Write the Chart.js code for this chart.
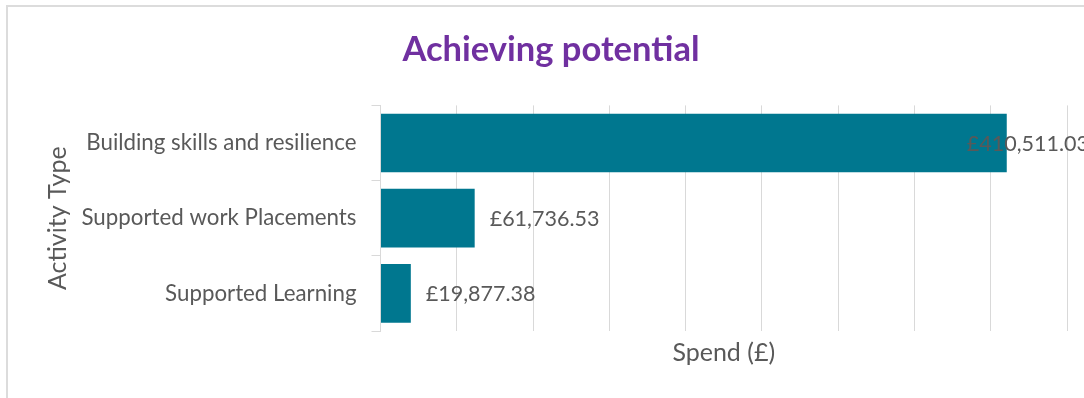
<!DOCTYPE html>
<html>
<head>
<meta charset="utf-8">
<title>Achieving potential</title>
<script src="https://cdn.jsdelivr.net/npm/chart.js@4/dist/chart.umd.min.js"></script>
<style>
  html, body { margin: 0; padding: 0; background: #ffffff; overflow: hidden; width: 1084px; height: 398px; }
  #frame { position: absolute; left: 6px; top: 5px; width: 1200px; height: 500px; border: 2px solid #dcdcdc; box-sizing: border-box; }
  #wrap { position: absolute; left: 0; top: 0; width: 1095px; height: 398px; }
</style>
</head>
<body>
<div id="frame"></div>
<div id="wrap"><canvas id="chart" width="1095" height="398"></canvas></div>
<script>
// Spend per activity type
const categories = ['Building skills and resilience', 'Supported work Placements', 'Supported Learning'];
const spend = [410511.03, 61736.53, 19877.38];
const axisMax = 450000;
const axisStep = 50000;

const FONT = 'Lato, "Open Sans", sans-serif';
const GREY = '#595959';

const money = v => '£' + v.toLocaleString('en-GB', { minimumFractionDigits: 2, maximumFractionDigits: 2 });

// Value labels just past each bar end, kept inside the canvas
const valueLabels = {
  id: 'valueLabels',
  afterDatasetsDraw(chart) {
    const ctx = chart.ctx;
    ctx.save();
    ctx.font = '21.5px ' + FONT;
    ctx.fillStyle = GREY;
    ctx.textAlign = 'left';
    ctx.textBaseline = 'middle';
    chart.getDatasetMeta(0).data.forEach((bar, i) => {
      const text = money(spend[i]);
      const w = ctx.measureText(text).width;
      const x = Math.min(bar.x + 15, chart.width - 6 - w);
      ctx.fillText(text, x, bar.y + 1);
    });
    ctx.restore();
  }
};

new Chart(document.getElementById('chart'), {
  type: 'bar',
  data: {
    labels: categories,
    datasets: [{
      data: spend,
      backgroundColor: '#00778F',
      borderWidth: 0,
      barPercentage: 0.78,
      categoryPercentage: 1
    }]
  },
  options: {
    indexAxis: 'y',
    responsive: false,
    animation: false,
    layout: { padding: { left: 35, right: 28, top: 0, bottom: 0 } },
    plugins: {
      legend: { display: false },
      tooltip: { enabled: false },
      title: {
        display: true,
        text: 'Achieving potential',
        color: '#7030A0',
        font: { family: FONT, size: 34.5, weight: 'bold', lineHeight: 1.2 },
        padding: { top: 29, bottom: 35 }
      }
    },
    scales: {
      x: {
        min: 0,
        max: axisMax,
        ticks: { display: false, stepSize: axisStep },
        grid: { color: '#d9d9d9', lineWidth: 1, drawTicks: false },
        border: { display: false },
        title: {
          display: true,
          text: 'Spend (£)',
          color: GREY,
          font: { family: FONT, size: 25, lineHeight: 1.2 },
          padding: { top: 0, bottom: 30 }
        },
        afterFit(scale) { scale.height = 67; }
      },
      y: {
        grid: { offset: true, drawOnChartArea: false, color: '#d9d9d9', tickLength: 9 },
        border: { display: true, color: '#d9d9d9' },
        ticks: { color: GREY, font: { family: FONT, size: 22.3 }, padding: 15 },
        title: {
          display: true,
          text: 'Activity Type',
          color: GREY,
          font: { family: FONT, size: 25, lineHeight: 1.2 },
          padding: { top: 8, bottom: 0 }
        },
        afterFit(scale) { scale.width = 345.5; }
      }
    }
  },
  plugins: [valueLabels]
});
</script>
</body>
</html>
